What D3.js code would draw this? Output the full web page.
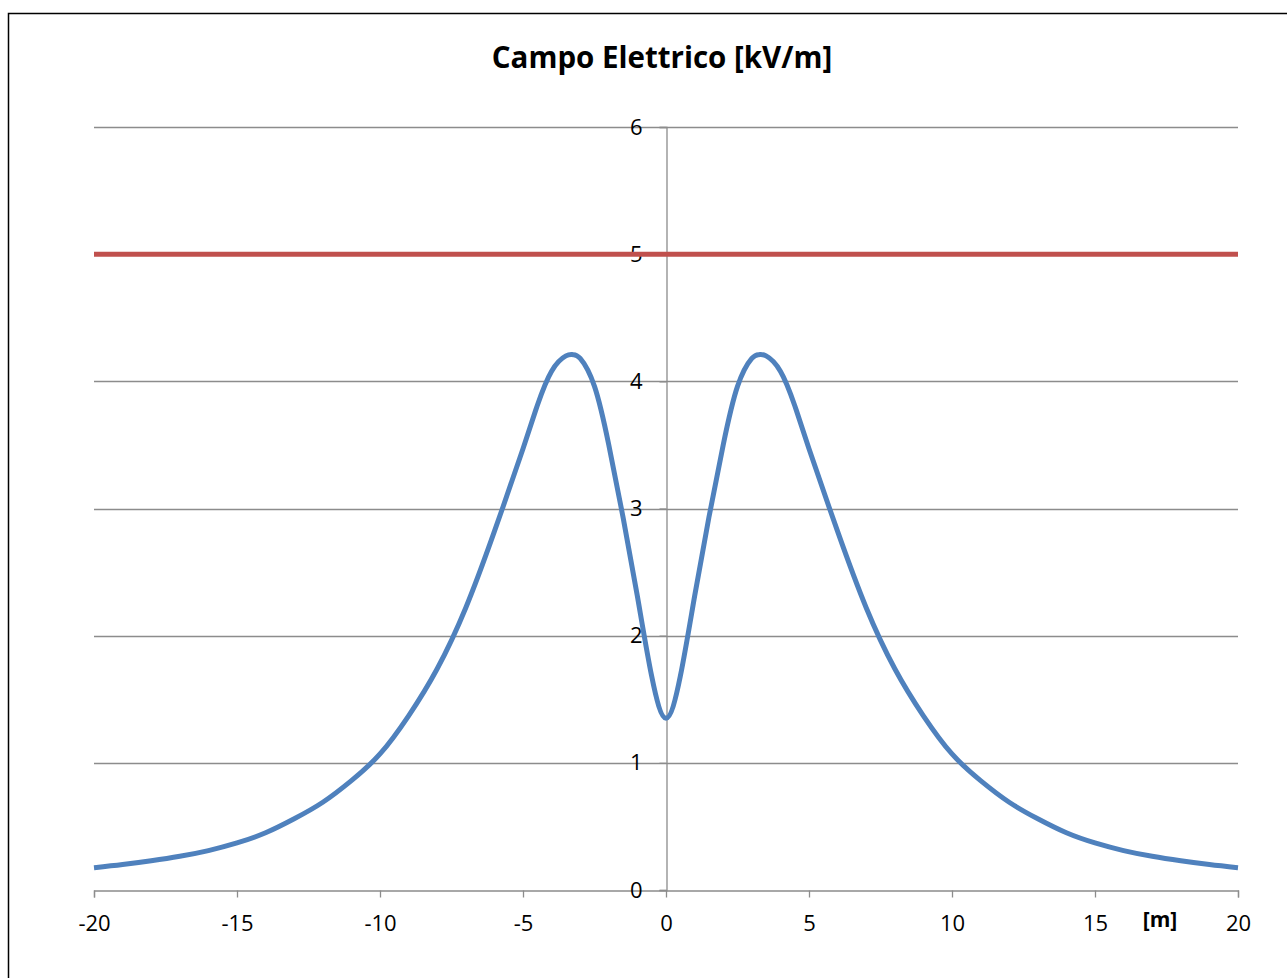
<!DOCTYPE html>
<html>
<head>
<meta charset="utf-8">
<script src="https://cdn.jsdelivr.net/npm/d3@7"></script>
<style>
  body { margin: 0; background: #fff; }
  svg { display: block; }
  text { font-family: "Open Sans", "Liberation Sans", sans-serif; }
</style>
</head>
<body>
<svg id="chart" width="1287" height="978"></svg>
<script>
// distance from the line axis [m]
let distance = [-20, -19, -18, -17, -16, -15, -14, -13, -12, -11, -10, -9, -8, -7, -6, -5, -4.5, -4, -3.5, -3.25, -3, -2.5, -2, -1.5, -1, -0.5, 0,
    0.5, 1, 1.5, 2, 2.5, 3, 3.25, 3.5, 4, 4.5, 5, 6, 7, 8, 9, 10, 11, 12, 13, 14, 15, 16, 17, 18, 19, 20];

// electric field [kV/m]
let field = [0.175, 0.2, 0.23, 0.265, 0.31, 0.37, 0.45, 0.56, 0.69, 0.86, 1.07, 1.37, 1.74, 2.22, 2.82, 3.47, 3.81, 4.08, 4.2, 4.21, 4.18, 3.96, 3.5, 2.93, 2.31, 1.68, 1.35,
    1.68, 2.31, 2.93, 3.5, 3.96, 4.18, 4.21, 4.2, 4.08, 3.81, 3.47, 2.82, 2.22, 1.74, 1.37, 1.07, 0.86, 0.69, 0.56, 0.45, 0.37, 0.31, 0.265, 0.23, 0.2, 0.175];

let limit = [5, 5]; // reference limit line
let limitX = [-20, 20];

let xTicks = [-20, -15, -10, -5, 0, 5, 10, 15, 20];
let yTicks = [0, 1, 2, 3, 4, 5, 6];

let svg = d3.select("#chart");

// outer frame
svg.append("rect")
    .attr("x", 8.5)
    .attr("y", 13.5)
    .attr("width", 1300)
    .attr("height", 1000)
    .attr("fill", "#fff")
    .attr("stroke", "#000")
    .attr("stroke-width", 1.5);

let x = d3.scaleLinear().domain([-20, 20]).range([94, 1238]);
let y = d3.scaleLinear().domain([0, 6]).range([890, 127]);

// horizontal gridlines
svg.append("g")
    .selectAll("line")
    .data(yTicks.filter(d => d > 0))
    .join("line")
    .attr("x1", x(-20))
    .attr("x2", x(20))
    .attr("y1", d => Math.round(y(d)) + 0.5)
    .attr("y2", d => Math.round(y(d)) + 0.5)
    .attr("stroke", "#8c8c8c")
    .attr("stroke-width", 1.3);

// x axis at y = 0
let xAxis = d3.axisBottom(x)
    .tickValues(xTicks)
    .tickSize(7)
    .tickPadding(18)
    .tickFormat(d3.format("d"));

let gx = svg.append("g")
    .attr("transform", `translate(0,${Math.round(y(0)) + 0.5})`)
    .call(xAxis);
gx.select(".domain").attr("stroke", "#8c8c8c").attr("stroke-width", 1.3);
gx.selectAll(".tick line").attr("stroke", "#8c8c8c").attr("stroke-width", 1.3);
gx.selectAll(".tick text")
    .attr("fill", "#000")
    .style("font-size", "22px")
    .text(d => d < 0 ? "-" + Math.abs(d) : d);

// y axis at x = 0
let yAxis = d3.axisLeft(y)
    .tickValues(yTicks)
    .tickSize(7)
    .tickPadding(17)
    .tickFormat(d3.format("d"));

let gy = svg.append("g")
    .attr("transform", `translate(${Math.round(x(0)) + 0.5},0)`)
    .call(yAxis);
gy.select(".domain").attr("stroke", "#8c8c8c").attr("stroke-width", 1.3);
gy.selectAll(".tick line").attr("stroke", "#8c8c8c").attr("stroke-width", 1.3);
gy.selectAll(".tick text")
    .attr("fill", "#000")
    .style("font-size", "22px");

// limit line
let limitLine = d3.line()
    .x((d, i) => x(limitX[i]))
    .y(d => y(d));

svg.append("path")
    .datum(limit)
    .attr("d", limitLine)
    .attr("fill", "none")
    .attr("stroke", "#c0504d")
    .attr("stroke-width", 5);

// field curve
let fieldLine = d3.line()
    .x((d, i) => x(distance[i]))
    .y(d => y(d))
    .curve(d3.curveNatural);

svg.append("path")
    .datum(field)
    .attr("d", fieldLine)
    .attr("fill", "none")
    .attr("stroke", "#4f81bd")
    .attr("stroke-width", 5)
    .attr("stroke-linejoin", "round");

// title
svg.append("text")
    .attr("x", 662)
    .attr("y", 68)
    .attr("text-anchor", "middle")
    .style("font-size", "29.5px")
    .style("font-weight", "bold")
    .text("Campo Elettrico [kV/m]");

// axis unit
svg.append("text")
    .attr("x", 1160)
    .attr("y", 927)
    .attr("text-anchor", "middle")
    .style("font-size", "21px")
    .style("font-weight", "bold")
    .text("[m]");
</script>
</body>
</html>
